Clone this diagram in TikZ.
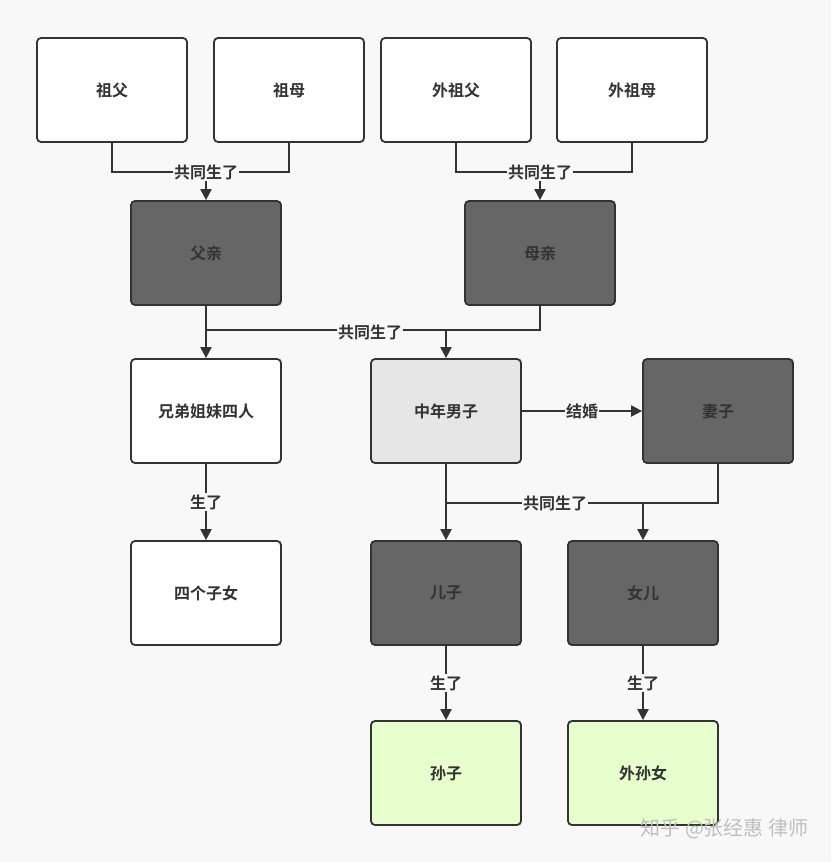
\documentclass[tikz,border=0pt]{standalone}
\usepackage{fontspec}
\newfontfamily\cjk{Noto Sans CJK SC}[BoldFont={Noto Sans CJK SC Bold}]
\usetikzlibrary{arrows.meta}
\definecolor{bg}{HTML}{F8F8F8}
\definecolor{dk}{HTML}{666666}
\definecolor{lg}{HTML}{E6E6E6}
\definecolor{gr}{HTML}{E6FFCC}
\definecolor{ln}{HTML}{333333}
\begin{document}
\begin{tikzpicture}[x=1pt,y=-1pt,
  box/.style={draw=ln,line width=1.8pt,rounded corners=4pt,minimum width=150pt,minimum height=104pt,font=\cjk\bfseries\fontsize{16}{18}\selectfont,text=ln},
  ln/.style={draw=ln,line width=2.2pt},
  ar/.style={ln,-{Triangle[length=11pt,width=11pt]}},
  lab/.style={fill=bg,inner sep=1pt,font=\cjk\bfseries\fontsize{16}{18}\selectfont,text=ln}]
\fill[bg] (0,0) rectangle (831,862);
\useasboundingbox (0,0) rectangle (831,862);
\node[box,fill=white] (zf) at (112,90) {祖父};
\node[box,fill=white] (zm) at (289,90) {祖母};
\node[box,fill=white] (wzf) at (456,90) {外祖父};
\node[box,fill=white] (wzm) at (632,90) {外祖母};
\node[box,fill=dk] (fq) at (206,253) {父亲};
\node[box,fill=dk] (mq) at (540,253) {母亲};
\node[box,fill=white] (xd) at (206,411) {兄弟姐妹四人};
\node[box,fill=lg] (zn) at (446,411) {中年男子};
\node[box,fill=dk] (qz) at (718,411) {妻子};
\node[box,fill=white] (sg) at (206,593) {四个子女};
\node[box,fill=dk] (ez) at (446,593) {儿子};
\node[box,fill=dk] (ne) at (643,593) {女儿};
\node[box,fill=gr] (sz) at (446,773) {孙子};
\node[box,fill=gr] (ws) at (643,773) {外孙女};
\coordinate (j1) at (206,172);
\coordinate (j2) at (540,172);
\coordinate (j3) at (206,330);
\coordinate (j4) at (446,330);
\coordinate (j5) at (446,503);
\coordinate (j6) at (643,503);
% paternal
\draw[ln] (zf.south) |- (j1) -| (zm.south);
\draw[ar] (j1) -- (fq.north);
\node[lab] at (j1) {共同生了};
% maternal
\draw[ln] (wzf.south) |- (j2) -| (wzm.south);
\draw[ar] (j2) -- (mq.north);
\node[lab] at (j2) {共同生了};
% parents
\draw[ln] (fq.south) -- (j3) -- (j4) -| (mq.south);
\draw[ar] (j3) -- (xd.north);
\draw[ar] (j4) -- (zn.north);
\node[lab] at (370,332) {共同生了};
% marriage
\draw[ar] (zn.east) -- node[lab]{结婚} (qz.west);
% children
\draw[ln] (zn.south) -- (j5) -- (j6) -| (qz.south);
\draw[ar] (j5) -- (ez.north);
\draw[ar] (j6) -- (ne.north);
\node[lab] at (555,503) {共同生了};
\draw[ar] (xd.south) -- node[lab]{生了} (sg.north);
\draw[ar] (ez.south) -- node[lab]{生了} (sz.north);
\draw[ar] (ne.south) -- node[lab]{生了} (ws.north);
\node[font=\cjk\fontsize{20}{22}\selectfont,text=black!25,anchor=east] (wm) at (812,829) {知乎 @张经惠 律师};
\end{tikzpicture}
\end{document}
